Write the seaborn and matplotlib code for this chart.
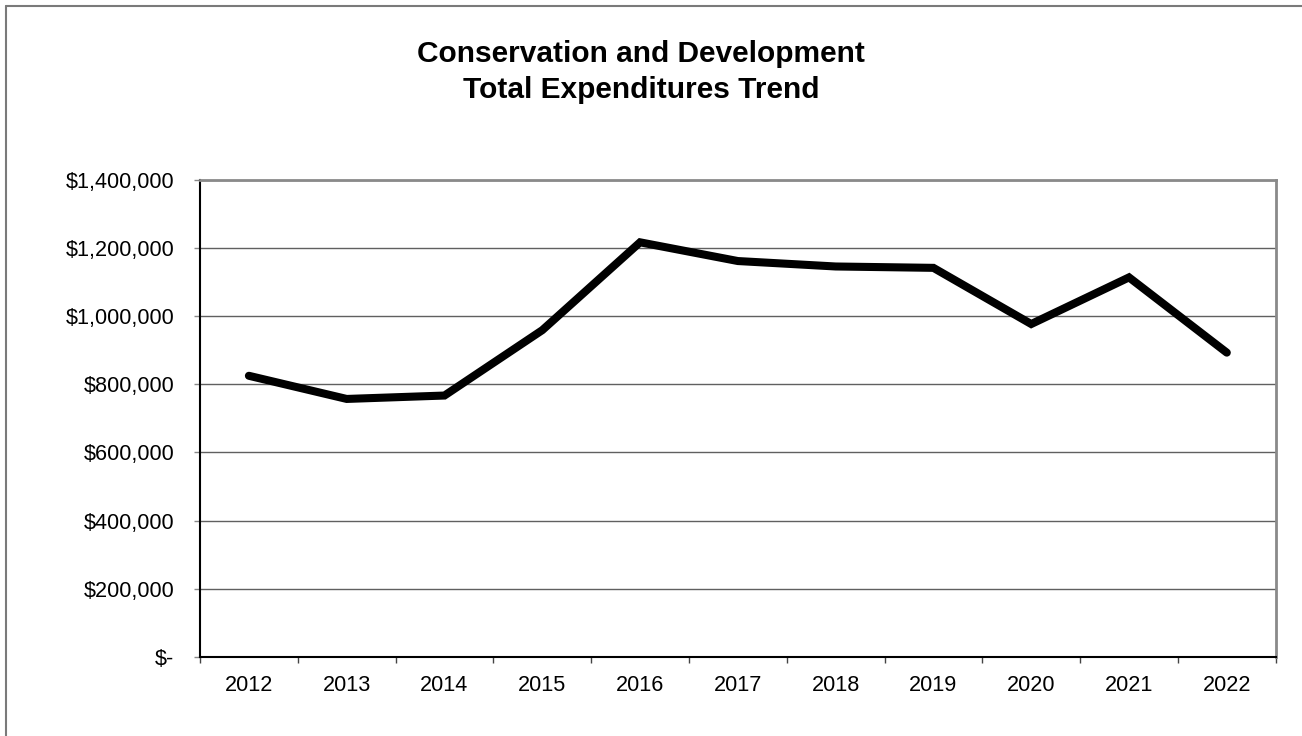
import matplotlib
matplotlib.use("Agg")
import matplotlib.pyplot as plt
from matplotlib.lines import Line2D
from matplotlib.ticker import FuncFormatter, FixedLocator
import seaborn as sns
import pandas as pd

# Fiscal years and total expenditures
years = ["2012", "2013", "2014", "2015", "2016", "2017",
         "2018", "2019", "2020", "2021", "2022"]
expenditures = [825000, 757000, 767000, 959000, 1217000, 1162000,
                1146000, 1142000, 977000, 1114000, 893000]
y_ticks = [0, 200000, 400000, 600000, 800000, 1000000, 1200000, 1400000]

title_text = "Conservation and Development\nTotal Expenditures Trend"

df = pd.DataFrame({"pos": range(len(years)), "year": years, "total": expenditures})

sns.set_theme(style="white")
plt.rcParams["font.family"] = ["Liberation Sans", "DejaVu Sans"]

W, H = 1302, 736
fig = plt.figure(figsize=(W / 100, H / 100), dpi=100)
fig.patch.set_facecolor("white")

ax = fig.add_axes([200 / W, (H - 656.7) / H, (1275.7 - 200) / W, (656.7 - 180) / H])
ax.set_facecolor("white")

sns.lineplot(data=df, x="pos", y="total", ax=ax, color="black",
             linewidth=5.8, solid_capstyle="round", solid_joinstyle="miter",
             legend=False)

ax.set_xlim(-0.5, len(years) - 0.5)
ax.set_ylim(0, 1400000)

# Category labels at centres, tick marks at category boundaries
ax.xaxis.set_major_locator(FixedLocator(list(range(len(years)))))
ax.set_xticklabels(years)
ax.xaxis.set_minor_locator(FixedLocator([i - 0.5 for i in range(len(years) + 1)]))
ax.tick_params(axis="x", which="major", length=0, pad=13, labelsize=15.6, colors="black")
ax.tick_params(axis="x", which="minor", bottom=True, length=4.5, width=1.0, color="#444444")

def money(v, _):
    if v == 0:
        return "$-"
    return "${:,.0f}".format(v)

ax.set_yticks(y_ticks)
ax.yaxis.set_major_formatter(FuncFormatter(money))
ax.tick_params(axis="y", which="major", left=True, length=4.5, width=1.0,
               color="#888888", pad=14, labelsize=15.6, labelcolor="black")

ax.grid(axis="y", color="#606060", linewidth=1.0)
ax.grid(axis="x", visible=False)
ax.set_axisbelow(True)
ax.set_xlabel("")
ax.set_ylabel("")

for side in ("left", "bottom"):
    ax.spines[side].set_visible(True)
    ax.spines[side].set_color("black")
    ax.spines[side].set_linewidth(1.5)
for side in ("top", "right"):
    ax.spines[side].set_visible(True)
    ax.spines[side].set_color("#8a8a8a")
    ax.spines[side].set_linewidth(2.0)

fig.text(641 / W, 1 - 72 / H, title_text, ha="center", va="center",
         fontsize=21.5, fontweight="bold", linespacing=1.35, color="black")

# Chart-area border (top and left edges)
fig.add_artist(Line2D([6 / W, 1.0], [1 - 6 / H, 1 - 6 / H], transform=fig.transFigure,
                      color="#7a7a7a", linewidth=1.5))
fig.add_artist(Line2D([6 / W, 6 / W], [0.0, 1 - 6 / H], transform=fig.transFigure,
                      color="#7a7a7a", linewidth=1.5))

fig.savefig("out.png", dpi=100, facecolor="white")
